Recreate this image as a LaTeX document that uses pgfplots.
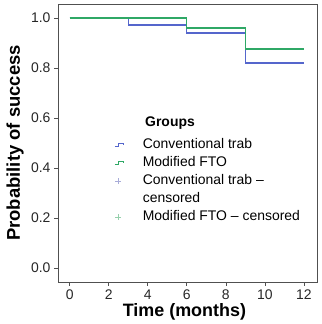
\documentclass[border=0pt]{standalone}
\usepackage{pgfplots}
\pgfplotsset{compat=1.18}
\usepackage{fontspec}
\setmainfont{Liberation Sans}
\definecolor{convblue}{HTML}{5566CC}
\definecolor{ftogreen}{HTML}{2FA866}
\definecolor{convcens}{HTML}{A8ACD8}
\definecolor{ftocens}{HTML}{96D0AC}
\definecolor{framegray}{HTML}{505050}
\begin{document}
\begin{tikzpicture}
\begin{axis}[
  scale only axis,
  width=259bp, height=278bp,
  xmin=-0.6, xmax=12.67,
  ymin=-0.056, ymax=1.056,
  xtick={0,2,...,12},
  ytick={0,0.2,...,1.0},
  yticklabel style={/pgf/number format/.cd, fixed, fixed zerofill, precision=1},
  /pgf/number format/assume math mode=true,
  tick label style={font=\fontsize{14}{16}\selectfont, text=black!85},
  tick align=outside,
  tick style={framegray, line width=0.7pt},
  major tick length=4pt,
  xtick pos=bottom, ytick pos=left,
  axis line style={framegray, line width=0.8pt},
  xlabel={\textbf{Time (months)}},
  ylabel={\textbf{Probability of success}},
  xlabel style={font=\fontsize{18}{20}\selectfont,
    at={(axis description cs:0.488,-0.108)}, anchor=center},
  ylabel style={font=\fontsize{18.5}{20}\selectfont,
    at={(axis description cs:-0.166,0.5)}, anchor=center},
  legend cell align=left,
  legend style={draw=none, fill=none, at={(0.205,0.523)}, anchor=north west,
    font=\fontsize{14}{16}\selectfont, row sep=5pt, column sep=0pt,
    nodes={inner sep=0pt, text height=10pt, text depth=3pt}},
  stepicon/.style={legend image code/.code={
    \draw[#1, line width=1.1pt] (0pt,-1.5pt) -- (4pt,-1.5pt) -- (4pt,2pt) -- (9pt,2pt) -- (9pt,0pt);
    \path[draw=none, fill=none] (0pt,-3pt) rectangle (28bp,3pt);}},
  censicon/.style={legend image code/.code={
    \draw[#1, line width=0.6pt] (0.5pt,0pt) -- (6.5pt,0pt) (3.5pt,-3pt) -- (3.5pt,3pt);
    \path[draw=none, fill=none] (0pt,-3pt) rectangle (28bp,3pt);}},
  blankicon/.style={legend image code/.code={
    \path[draw=none, fill=none] (0pt,-3pt) rectangle (28bp,3pt);}},
]
% Kaplan-Meier step curves
\addplot[color=convblue, line width=1.1pt, mark=none, const plot, stepicon=convblue]
  coordinates {(0,1.0) (3,0.972) (6,0.94) (9,0.82) (12,0.82)};
\addlegendentry{Conventional trab}
\addplot[color=ftogreen, line width=1.1pt, mark=none, const plot, stepicon=ftogreen]
  coordinates {(0,1.0) (6,0.96) (9,0.876) (12,0.876)};
\addlegendentry{Modified FTO}
% censoring marks (none fall inside the follow-up shown)
\addlegendimage{censicon=convcens}
\addlegendentry{Conventional trab --}
\addlegendimage{blankicon}
\addlegendentry{censored}
\addlegendimage{censicon=ftocens}
\addlegendentry{Modified FTO -- censored}
% legend heading
\node[font=\fontsize{14}{16}\selectfont\bfseries, anchor=west, inner sep=0pt]
  at (axis description cs:0.336,0.572) {Groups};
\end{axis}
\pgfresetboundingbox
\path[use as bounding box] ([xshift=-58bp,yshift=-42bp]current axis.south west)
  rectangle ([xshift=5bp,yshift=4bp]current axis.north east);
\end{tikzpicture}
\end{document}
